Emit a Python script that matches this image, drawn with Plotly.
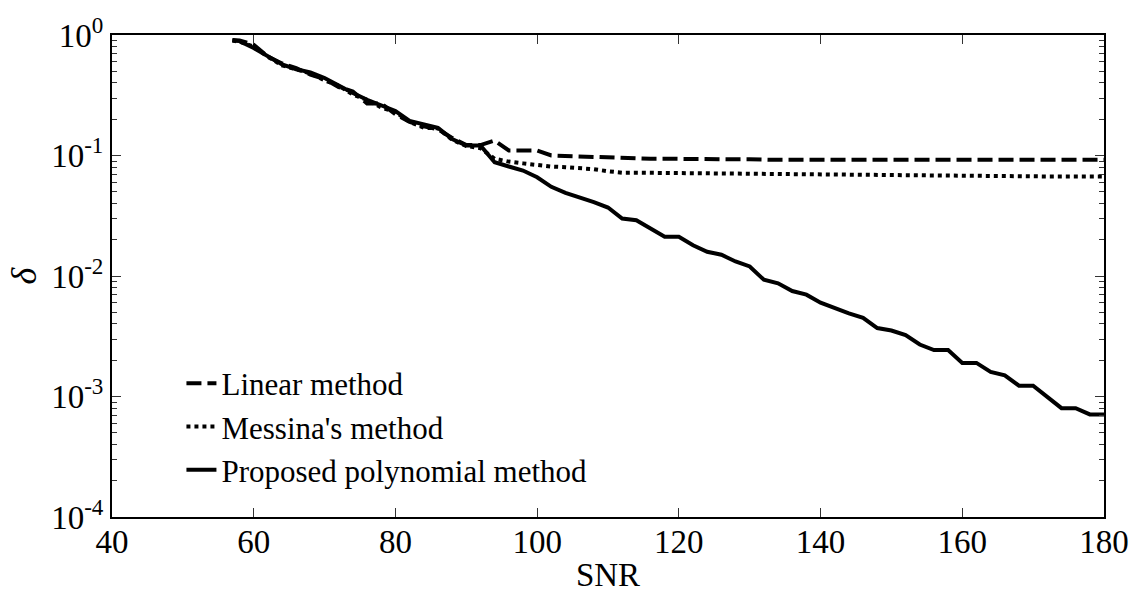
import plotly.graph_objects as go

snr = [57, 58, 60, 62, 64, 66, 68, 70, 72, 74, 76, 78, 80, 82, 84, 86, 88, 90, 92,
       94, 96, 98, 100, 102, 104, 106, 108, 110, 112, 114, 116, 118, 120, 122, 124,
       126, 128, 130, 132, 134, 136, 138, 140, 142, 144, 146, 148, 150, 152, 154,
       156, 158, 160, 162, 164, 166, 168, 170, 172, 174, 176, 178, 180]

linear = [0.91, 0.90, 0.83, 0.66, 0.58, 0.53, 0.47, 0.43, 0.37, 0.34, 0.27, 0.27, 0.22,
          0.19, 0.175, 0.165, 0.14, 0.122, 0.122,
          0.133, 0.110, 0.110, 0.110, 0.100, 0.099, 0.098, 0.097, 0.096, 0.095, 0.095,
          0.094, 0.094, 0.0935, 0.093, 0.093, 0.093, 0.093, 0.093, 0.092, 0.092, 0.092,
          0.092, 0.092, 0.092, 0.092, 0.092, 0.092, 0.092, 0.092, 0.092, 0.092, 0.092,
          0.092, 0.092, 0.092, 0.092, 0.092, 0.092, 0.092, 0.092, 0.092, 0.092, 0.092]

messina = [0.90, 0.88, 0.80, 0.66, 0.56, 0.52, 0.48, 0.42, 0.38, 0.32, 0.29, 0.25, 0.23,
           0.19, 0.17, 0.168, 0.135, 0.12, 0.115,
           0.094, 0.089, 0.086, 0.083, 0.081, 0.080, 0.079, 0.077, 0.074, 0.072, 0.072,
           0.0718, 0.0716, 0.0715, 0.0712, 0.071, 0.0708, 0.0705, 0.0703, 0.070, 0.0698,
           0.0695, 0.0693, 0.069, 0.0688, 0.0686, 0.0684, 0.0682, 0.068, 0.068, 0.0678,
           0.0677, 0.0676, 0.0675, 0.0674, 0.0673, 0.0672, 0.0671, 0.067, 0.067, 0.067,
           0.067, 0.067, 0.067]

proposed = [0.90, 0.89, 0.78, 0.67, 0.57, 0.52, 0.49, 0.44, 0.38, 0.33, 0.29, 0.26, 0.234,
            0.194, 0.18, 0.17, 0.137, 0.121, 0.121,
            0.088, 0.081, 0.075, 0.066, 0.055, 0.049, 0.045, 0.041, 0.037, 0.030, 0.029,
            0.025, 0.0212, 0.0212, 0.018, 0.0159, 0.015, 0.0132, 0.012, 0.0093, 0.0087,
            0.0075, 0.0070, 0.0060, 0.0054, 0.0049, 0.0045, 0.0037, 0.00353, 0.00323,
            0.0027, 0.00243, 0.00243, 0.0019, 0.0019, 0.0016, 0.0015, 0.00123, 0.00123,
            0.001, 0.0008, 0.0008, 0.00071, 0.00071]

names = ["Linear method", "Messina's method", "Proposed polynomial method"]
dashes = ["15px,6px", "4px,4px", "solid"]
series = [linear, messina, proposed]

x_ticks = [40, 60, 80, 100, 120, 140, 160, 180]
y_ticks = [1e-4, 1e-3, 1e-2, 1e-1, 1]
y_ticktext = ["10<sup>-4</sup>", "10<sup>-3</sup>", "10<sup>-2</sup>",
              "10<sup>-1</sup>", "10<sup>0</sup>"]

fig = go.Figure()
for name, ys, d in zip(names, series, dashes):
    fig.add_trace(go.Scatter(x=snr, y=ys, mode="lines", name=name,
                             line=dict(color="black", width=4, dash=d)))

font = "Times New Roman, Liberation Serif, serif"
axis_common = dict(showline=True, linecolor="black", linewidth=2, mirror="ticks",
                   ticks="inside", tickcolor="#333", tickwidth=1, ticklen=9,
                   showgrid=False, zeroline=False,
                   tickfont=dict(family=font, size=33, color="black"))

fig.update_layout(
    width=1142, height=601,
    margin=dict(l=112, r=38, t=32, b=84),
    paper_bgcolor="white", plot_bgcolor="white",
    font=dict(family=font, color="black"),
    showlegend=True,
    legend=dict(x=0.07, y=0.333, xanchor="left", yanchor="top",
                bgcolor="rgba(0,0,0,0)", font=dict(family=font, size=31),
                tracegroupgap=0, itemwidth=30),
)
fig.update_xaxes(range=[40, 180], tickvals=x_ticks,
                 ticklabelstandoff=-6,
                 title=dict(text="SNR", font=dict(family=font, size=33), standoff=4),
                 **axis_common)
fig.update_yaxes(type="log", range=[-4, 0], tickvals=y_ticks, ticktext=y_ticktext,
                 title=dict(text="<i>δ</i>", font=dict(family=font, size=36), standoff=4),
                 minor=dict(ticks="inside", ticklen=5, tickcolor="#333", dtick="D1"),
                 **axis_common)

fig.write_html("out.html")
